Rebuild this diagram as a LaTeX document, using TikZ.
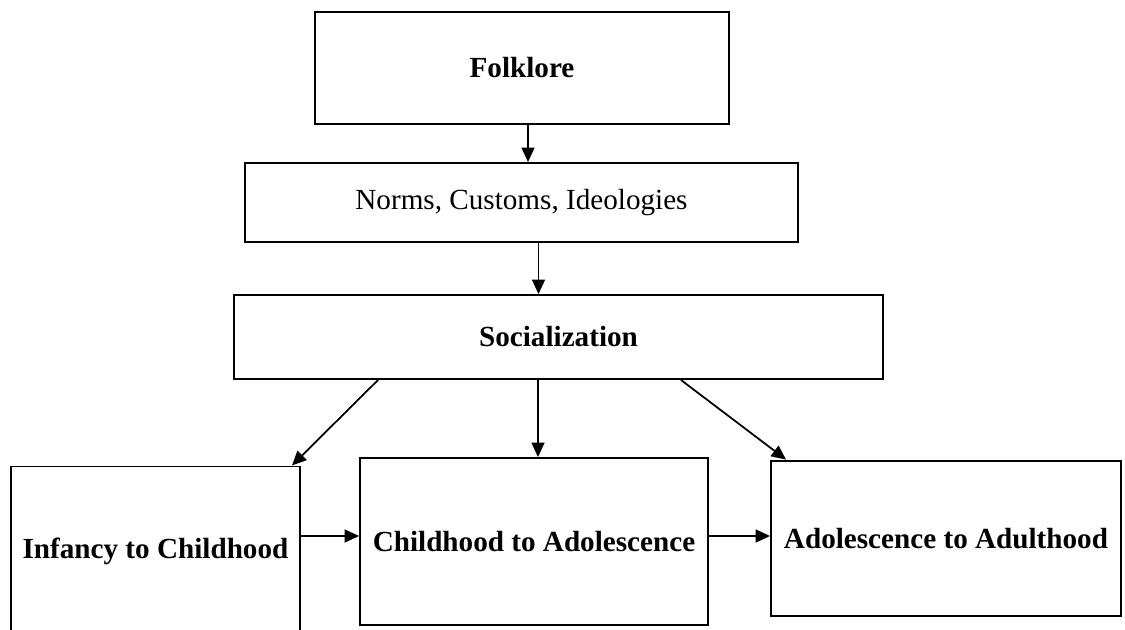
\documentclass[tikz,border=0pt]{standalone}
\usepackage{fontspec}
\setmainfont{Liberation Serif}
\usetikzlibrary{arrows.meta,calc,positioning}
\tikzset{
  flow/.style={-{Triangle[length=0.29cm, width=0.26cm]}, line width=1pt},
  stagebox/.style={draw, line width=1.1pt, inner sep=0pt, align=center,
    font=\fontsize{16.6}{20}\selectfont},
  bold box/.style={stagebox, font=\fontsize{16.6}{20}\selectfont\bfseries},
}

\begin{document}
\begin{tikzpicture}[x=0.02cm, y=-0.02cm]
  \useasboundingbox (0,0) rectangle (1125,629);

  % Top chain
  \node[bold box, minimum width=8.28cm, minimum height=2.24cm] (folk) at (522,68) {Folklore};
  \node[stagebox, minimum width=11.06cm, minimum height=1.58cm] (norms) at (521.5,202.5) {Norms, Customs, Ideologies};
  \node[bold box, minimum width=12.98cm, minimum height=1.68cm] (soc) at (558.5,337) {Socialization};

  % Life stages
  \node[bold box, minimum width=5.78cm, minimum height=3.41cm] (infant) at (155.5,551.7) {Infancy to Childhood};
  \node[bold box, minimum width=6.96cm, minimum height=3.34cm] (child) at (534,541.5) {Childhood to Adolescence};
  \node[bold box, minimum width=7.00cm, minimum height=3.11cm] (adult) at (946,538.3) {Adolescence to Adulthood};

  % Vertical arrows
  \draw[flow] ([xshift=0.12cm]folk.south) -- ([xshift=0.12cm]folk.south |- norms.north);
  \draw[flow] ([xshift=0.34cm]norms.south) -- ([xshift=0.34cm]norms.south |- soc.north);
  \draw[flow] ([xshift=0.08cm]child.north |- soc.south) -- ([xshift=0.08cm]child.north);

  % Diagonal arrows
  \draw[flow] ([xshift=2.9cm]soc.south west) -- ([xshift=-0.18cm]infant.north east);
  \draw[flow] ([xshift=-4.06cm]soc.south east) -- ([xshift=0.32cm]adult.north west);

  % Horizontal arrows
  \draw[flow] ([yshift=0.11cm]child.west -| infant.east) -- ([yshift=0.11cm]child.west);
  \draw[flow] ([yshift=0.11cm]child.east) -- ([yshift=0.11cm]child.east -| adult.west);
\end{tikzpicture}
\end{document}
